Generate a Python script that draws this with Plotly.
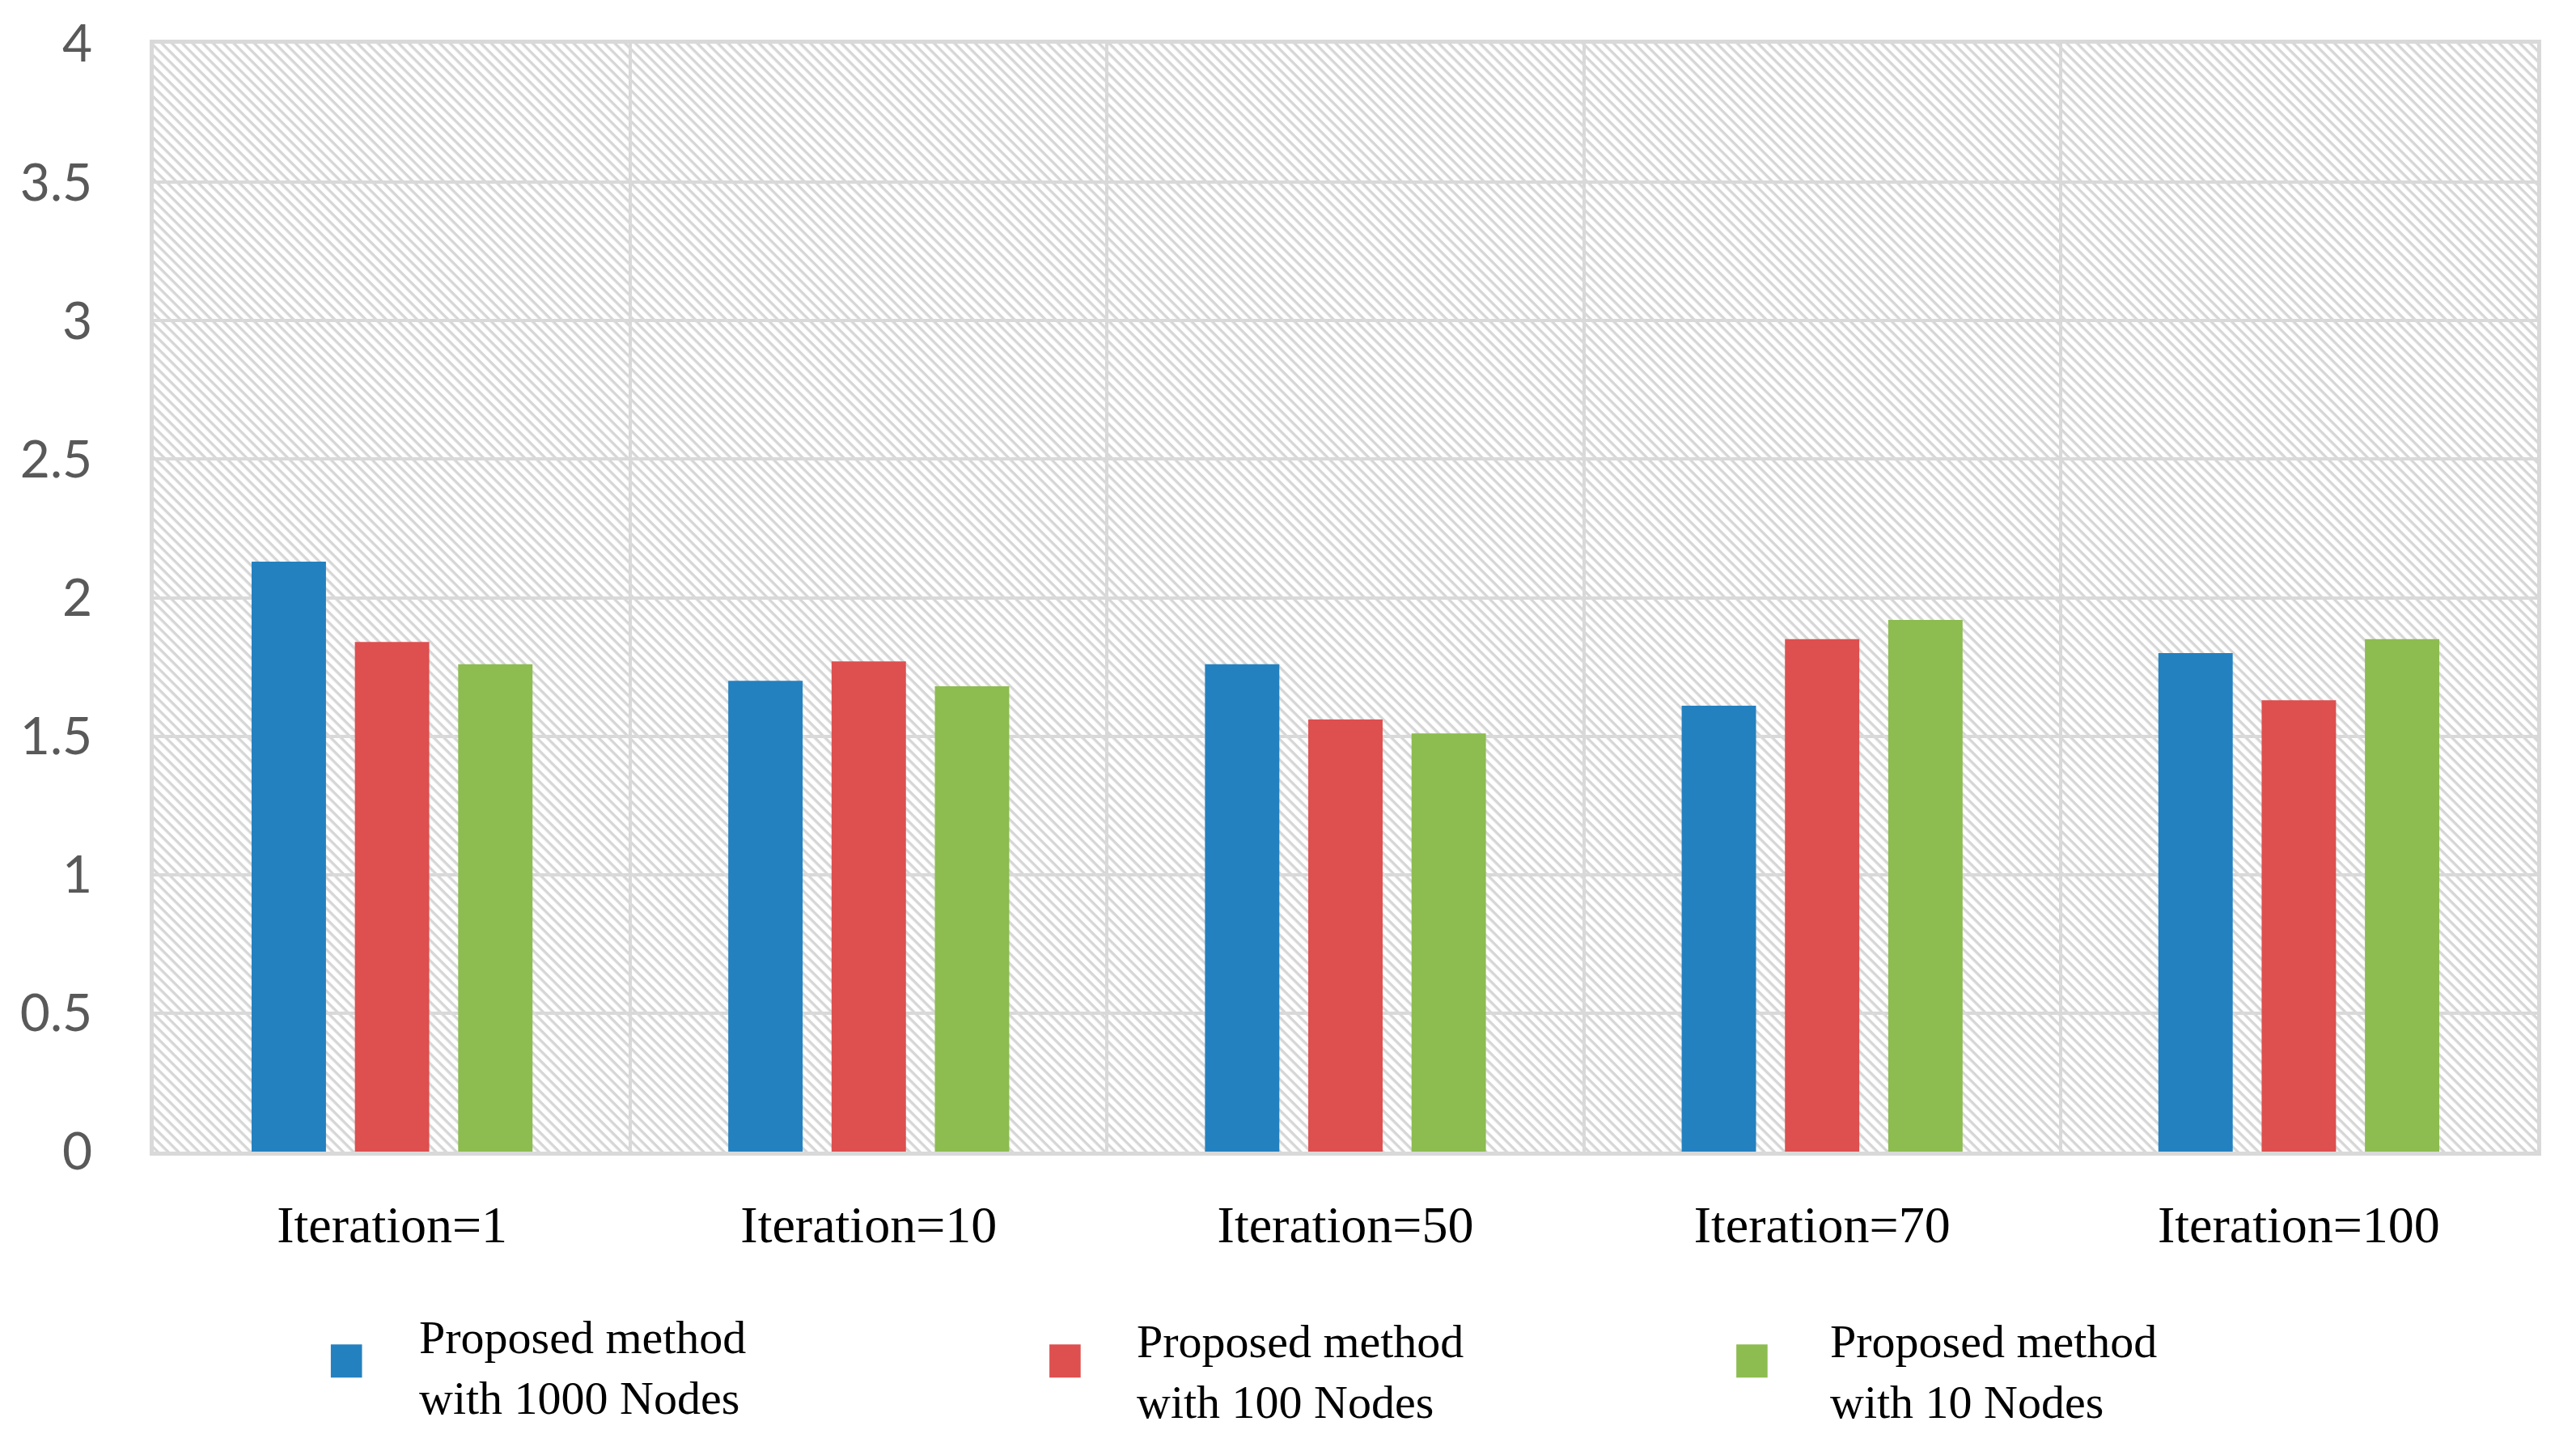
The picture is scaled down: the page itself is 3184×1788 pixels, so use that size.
import base64
import plotly.graph_objects as go

categories = ["Iteration=1", "Iteration=10", "Iteration=50", "Iteration=70", "Iteration=100"]
series_names = ["Proposed method<br>with 1000 Nodes",
                "Proposed method<br>with 100 Nodes",
                "Proposed method<br>with 10 Nodes"]
nodes_1000 = [2.13, 1.70, 1.76, 1.61, 1.80]
nodes_100 = [1.84, 1.77, 1.56, 1.85, 1.63]
nodes_10 = [1.76, 1.68, 1.51, 1.92, 1.85]
y_ticks = [0, 0.5, 1, 1.5, 2, 2.5, 3, 3.5, 4]

colors = ["#2481c0", "#de4f4f", "#8dbc51"]

W, H = 3184, 1788
ml, mr, mt, mb = 182, 56, 46, 373
pw, ph = W - ml - mr, H - mt - mb

svg = (
    f'<svg xmlns="http://www.w3.org/2000/svg" width="{pw}" height="{ph}">'
    '<defs><pattern id="h" width="9" height="9" patternUnits="userSpaceOnUse" '
    'patternTransform="rotate(45)"><rect x="0" y="0" width="9" height="3.4" fill="#d6d6d6"/>'
    '</pattern></defs>'
    '<rect width="100%" height="100%" fill="#ffffff"/>'
    '<rect width="100%" height="100%" fill="url(#h)"/></svg>'
)
src = "data:image/svg+xml;base64," + base64.b64encode(svg.encode()).decode()

fig = go.Figure()
for name, vals, col in zip(series_names, [nodes_1000, nodes_100, nodes_10], colors):
    fig.add_trace(go.Bar(x=categories, y=vals, name=name, marker_color=col,
                         marker_line_width=0, showlegend=False))

# Legend keys (drawn manually to match the large square swatches of the original)
key_x = [0.0743, 0.3758, 0.664]
text_x = [0.1108, 0.4116, 0.7027]
key_w, key_h, key_yc = 0.0131, 0.030, -0.189
shapes = []
annotations = []
for kx, tx, name, col, dy in zip(key_x, text_x, series_names, colors, [0.0, -0.004, -0.004]):
    shapes.append(dict(type="rect", xref="paper", yref="paper",
                       x0=kx, x1=kx + key_w, y0=key_yc - key_h / 2, y1=key_yc + key_h / 2,
                       fillcolor=col, line_width=0, layer="above"))
    annotations.append(dict(xref="paper", yref="paper", x=tx, y=-0.195 + dy,
                            xanchor="left", yanchor="middle", align="left",
                            text=name, showarrow=False,
                            font=dict(family="Liberation Serif", size=58, color="black")))

fig.update_layout(
    width=W, height=H,
    margin=dict(l=ml, r=mr, t=mt, b=mb, autoexpand=False),
    paper_bgcolor="white",
    plot_bgcolor="rgba(0,0,0,0)",
    barmode="group",
    bargap=0.35,
    bargroupgap=0.28,
    images=[dict(source=src, xref="paper", yref="paper", x=0, y=1, sizex=1, sizey=1,
                 xanchor="left", yanchor="top", sizing="stretch", layer="below")],
    showlegend=False,
    shapes=shapes,
    annotations=annotations,
)
fig.update_xaxes(
    type="category", showgrid=True, tickson="boundaries", gridcolor="#d9d9d9", gridwidth=4,
    showline=True, linecolor="#d9d9d9", linewidth=5, mirror=True, automargin=False,
    ticks="", tickfont=dict(family="Liberation Serif", size=64, color="black"),
    ticklabelstandoff=30,
)
fig.update_yaxes(
    range=[0, 4], tickvals=y_ticks, ticktext=[f"{v:g}" for v in y_ticks],
    showgrid=True, gridcolor="#d9d9d9", gridwidth=4, zeroline=False,
    showline=True, linecolor="#d9d9d9", linewidth=5, mirror=True, automargin=False,
    ticks="", tickfont=dict(family="Lato", size=64, color="#595959"),
    ticklabelstandoff=58, ticklabeloverflow="allow",
)
fig.write_html("out.html")
